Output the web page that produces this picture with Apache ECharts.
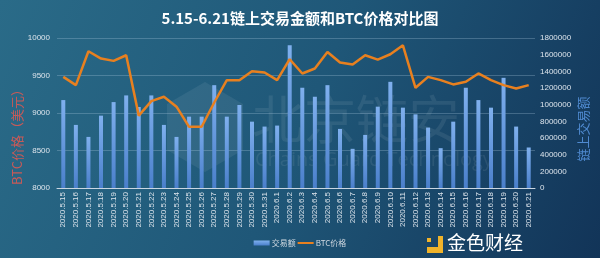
<!DOCTYPE html>
<html><head><meta charset="utf-8">
<script src="https://cdn.jsdelivr.net/npm/echarts@6/dist/echarts.min.js"></script>
<style>html,body{margin:0;padding:0;}#c{width:600px;height:258px;}</style>
</head><body><div id="c"></div>
<script>
const categories = ['2020.5.15','2020.5.16','2020.5.17','2020.5.18','2020.5.19','2020.5.20','2020.5.21','2020.5.22','2020.5.23','2020.5.24','2020.5.25','2020.5.26','2020.5.27','2020.5.28','2020.5.29','2020.5.30','2020.5.31','2020.6.1','2020.6.2','2020.6.3','2020.6.4','2020.6.5','2020.6.6','2020.6.7','2020.6.8','2020.6.9','2020.6.10','2020.6.11','2020.6.12','2020.6.13','2020.6.14','2020.6.15','2020.6.16','2020.6.17','2020.6.18','2020.6.19','2020.6.20','2020.6.21'];
const volume = [1055000,757000,613000,868000,1031000,1111000,972000,1111000,757000,613000,856000,856000,1234000,856000,996000,796000,737000,749000,1712000,1203000,1095000,1234000,709000,470000,637000,976000,1274000,964000,884000,725000,478000,796000,1203000,1055000,964000,1322000,737000,486000];
const btcPrice = [9482,9372,9823,9726,9695,9770,8965,9159,9217,9084,8816,8816,9140,9437,9437,9557,9540,9438,9717,9527,9593,9814,9673,9646,9770,9712,9783,9903,9336,9482,9438,9381,9416,9527,9438,9372,9327,9372];
const leftTicks = {min: 8000, max: 10000, interval: 500};
const rightTicks = {min: 0, max: 1800000, interval: 200000};

const chart = echarts.init(document.getElementById('c'), null, {renderer: 'canvas'});
const lbl = '#dce4ec';
chart.setOption({
  backgroundColor: new echarts.graphic.LinearGradient(0, 0, 1, 1, [
    {offset: 0, color: '#2a6b88'},
    {offset: 0.5, color: '#1f5778'},
    {offset: 1, color: '#123458'}
  ]),
  animation: false,
  title: {
    text: '5.15-6.21链上交易金额和BTC价格对比图',
    left: 'center', top: 6,
    textStyle: {color: '#ffffff', fontSize: 15, fontWeight: 'bold', fontFamily: 'Noto Sans CJK SC'}
  },
  graphic: [
    {type: 'polygon', shape: {points: [[205,82],[243,104],[243,150],[205,172],[167,150],[167,104]]},
     style: {fill: 'rgba(255,255,255,0.07)'}, z: 0},
    {type: 'text', left: 252, top: 93, style: {text: '北京链安', fill: 'rgba(255,255,255,0.08)', font: '52px "Noto Sans CJK SC"'}, z: 0},
    {type: 'text', left: 255, top: 150, style: {text: 'Chains Guard Technology', fill: 'rgba(255,255,255,0.08)', font: '20px "Open Sans"'}, z: 0},
    {type: 'text', x: 17, y: 134, rotation: Math.PI / 2,
     style: {text: 'BTC价格（美元）', fill: '#c85a58', font: '13px "Noto Sans CJK SC"', align: 'center', verticalAlign: 'middle'}, z: 5},
    {type: 'text', x: 583, y: 129, rotation: Math.PI / 2,
     style: {text: '链上交易额', fill: '#4f8ad0', font: '13px "Noto Sans CJK SC"', align: 'center', verticalAlign: 'middle'}, z: 5},
    {type: 'rect', shape: {x: 427, y: 236, width: 16, height: 17}, style: {fill: '#f0b32a'}, z: 5},
    {type: 'rect', shape: {x: 427, y: 236, width: 11, height: 11}, style: {fill: '#1a4567'}, z: 6},
    {type: 'rect', shape: {x: 427, y: 238, width: 4, height: 4}, style: {fill: '#f0b32a'}, z: 7},
    {type: 'text', left: 447, top: 233, style: {text: '金色财经', fill: '#ffffff', font: '19px "Noto Sans CJK SC"'}, z: 5}
  ],
  legend: {
    bottom: 6, left: 'center', itemGap: 2, itemWidth: 16, itemHeight: 5,
    textStyle: {color: '#cfd8e0', fontSize: 8, fontFamily: 'Noto Sans CJK SC', padding: [0, 0, 0, -3]},
    data: [{name: '交易额', icon: 'rect'},
           {name: 'BTC价格', icon: 'path://M0,0 L16,0 L16,2 L0,2 Z', itemStyle: {color: '#e8801f'}}]
  },
  grid: {left: 57, right: 65, top: 38, bottom: 70},
  xAxis: {
    type: 'category', data: categories,
    axisLine: {lineStyle: {color: '#c9d6e2', width: 1}},
    axisTick: {show: false},
    axisLabel: {rotate: 90, color: lbl, fontSize: 8, interval: 0, margin: 4}
  },
  yAxis: [
    {type: 'value', min: leftTicks.min, max: leftTicks.max, interval: leftTicks.interval,
     axisLine: {show: false}, axisTick: {show: false},
     axisLabel: {color: lbl, fontSize: 8, margin: 7, formatter: v => String(v)},
     splitLine: {lineStyle: {color: 'rgba(180,210,230,0.28)', width: 1}}},
    {type: 'value', min: rightTicks.min, max: rightTicks.max, interval: rightTicks.interval,
     axisLine: {show: false}, axisTick: {show: false},
     axisLabel: {color: lbl, fontSize: 8, margin: 5, formatter: v => String(v)},
     splitLine: {show: false}}
  ],
  series: [
    {name: '交易额', type: 'bar', yAxisIndex: 1, data: volume, barWidth: 4,
     itemStyle: {color: new echarts.graphic.LinearGradient(0, 0, 0, 1, [
       {offset: 0, color: '#7fb0ee'}, {offset: 1, color: '#4a7fcb'}])}},
    {name: 'BTC价格', type: 'line', yAxisIndex: 0, data: btcPrice,
     symbol: 'none', lineStyle: {color: '#e8801f', width: 2.5}, itemStyle: {color: '#e8801f'}, z: 10}
  ]
});
</script></body></html>
